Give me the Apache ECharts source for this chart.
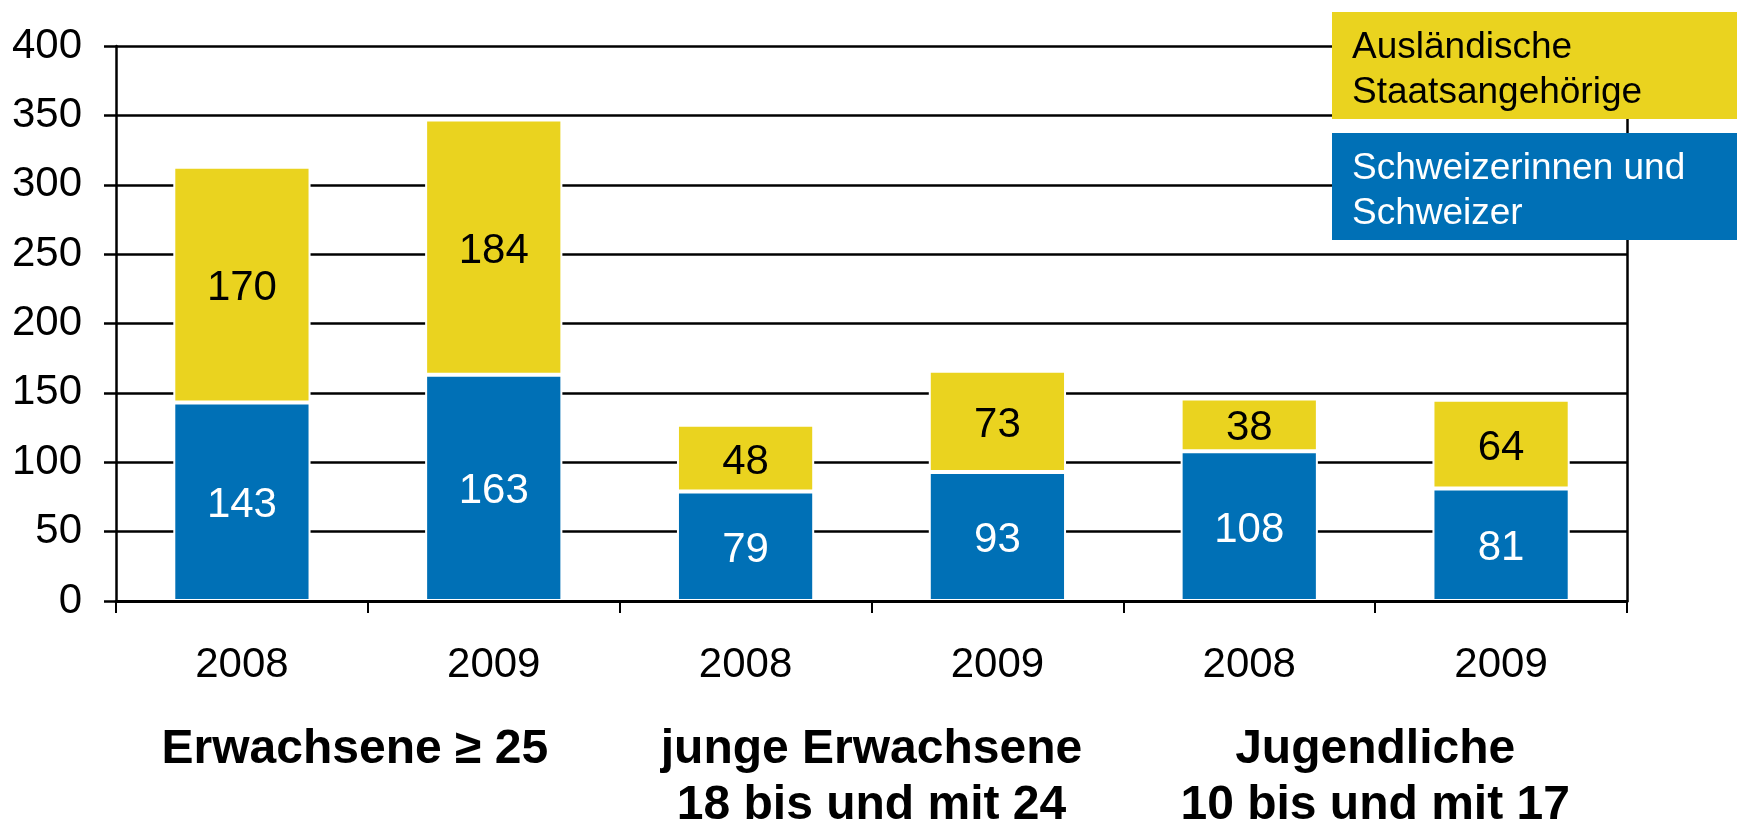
<!DOCTYPE html>
<html>
<head>
<meta charset="utf-8">
<script src="https://cdn.jsdelivr.net/npm/echarts@6/dist/echarts.min.js"></script>
<style>
  html, body { margin: 0; padding: 0; background: #fff; }
  #chart { width: 1737px; height: 823px; }
</style>
</head>
<body>
<div id="chart"></div>
<script>
// Jahre je Balken, Gruppen darunter
const years = ['2008', '2009', '2008', '2009', '2008', '2009']
const groups = ['Erwachsene ≥ 25', 'junge Erwachsene\n18 bis und mit 24', 'Jugendliche\n10 bis und mit 17']
const seriesNames = ['Schweizerinnen und\nSchweizer', 'Ausländische\nStaatsangehörige']
const swiss = [143, 163, 79, 93, 108, 81]
const foreign = [170, 184, 48, 73, 38, 64]

const FONT = '"Liberation Sans", Arial, sans-serif'
const BLUE = '#0070B6'
const YELLOW = '#EAD31F'

const chart = echarts.init(document.getElementById('chart'))

// Legende als Kästchen oben rechts
function legendBox(name, color, textColor, y) {
  return [
    {
      type: 'rect', z: 100,
      shape: { x: 1332, y: y, width: 405, height: 107 },
      style: { fill: color }
    },
    {
      type: 'text', z: 101,
      x: 1352, y: y + 58,
      style: {
        text: name, fill: textColor, font: '37px ' + FONT,
        lineHeight: 45, verticalAlign: 'middle', align: 'left'
      }
    }
  ]
}

const option = {
  backgroundColor: '#fff',
  animation: false,
  grid: { left: 116, right: 110, top: 46, bottom: 222, containLabel: false, outerBoundsMode: 'none' },
  xAxis: [
    {
      type: 'category',
      data: years,
      z: 5,
      axisLine: { lineStyle: { color: '#000', width: 3 } },
      axisTick: { show: true, interval: 0, length: 12, lineStyle: { color: '#000', width: 2 } },
      axisLabel: { interval: 0, color: '#000', fontSize: 42, fontFamily: FONT, margin: 43, lineHeight: 42 }
    },
    {
      type: 'category',
      data: groups,
      position: 'bottom',
      axisLine: { show: false },
      axisTick: { show: false },
      axisLabel: {
        interval: 0, color: '#000', fontSize: 48, fontWeight: 'bold',
        fontFamily: FONT, margin: 121, lineHeight: 56,
        formatter: (v, i) => i === 0 ? '{pad|' + v + '}' : v,
        rich: {
          pad: { fontSize: 48, fontWeight: 'bold', fontFamily: FONT, color: '#000', lineHeight: 56, padding: [0, 26, 0, 0] }
        }
      }
    }
  ],
  yAxis: [
    {
      type: 'value',
      min: 0, max: 400, interval: 50,
      axisLine: { show: true, lineStyle: { color: '#000', width: 2.5 } },
      axisTick: { show: true, length: 12, lineStyle: { color: '#000', width: 2.5 } },
      axisLabel: { color: '#000', fontSize: 42, fontFamily: FONT, margin: 34, padding: [8, 0, 0, 0] },
      splitLine: { lineStyle: { color: '#000', width: 2.5 } }
    },
    {
      type: 'value',
      position: 'right',
      min: 0, max: 400, interval: 50,
      axisLine: { show: true, lineStyle: { color: '#000', width: 2.5 } },
      axisTick: { show: false },
      axisLabel: { show: false },
      splitLine: { show: false }
    }
  ],
  series: [
    {
      name: seriesNames[0],
      type: 'bar',
      stack: 'total',
      data: swiss,
      barWidth: '54.5%',
      itemStyle: { color: BLUE, borderColor: '#fff', borderWidth: 2 },
      label: { show: true, position: 'inside', offset: [0, 4], color: '#fff', fontSize: 42, fontFamily: FONT }
    },
    {
      name: seriesNames[1],
      type: 'bar',
      stack: 'total',
      data: foreign,
      barWidth: '54.5%',
      itemStyle: { color: YELLOW, borderColor: '#fff', borderWidth: 2 },
      label: { show: true, position: 'inside', offset: [0, 4], color: '#000', fontSize: 42, fontFamily: FONT }
    }
  ],
  graphic: [
    ...legendBox(seriesNames[1], YELLOW, '#000', 12),
    ...legendBox(seriesNames[0], BLUE, '#fff', 133)
  ]
}

chart.setOption(option)
</script>
</body>
</html>
